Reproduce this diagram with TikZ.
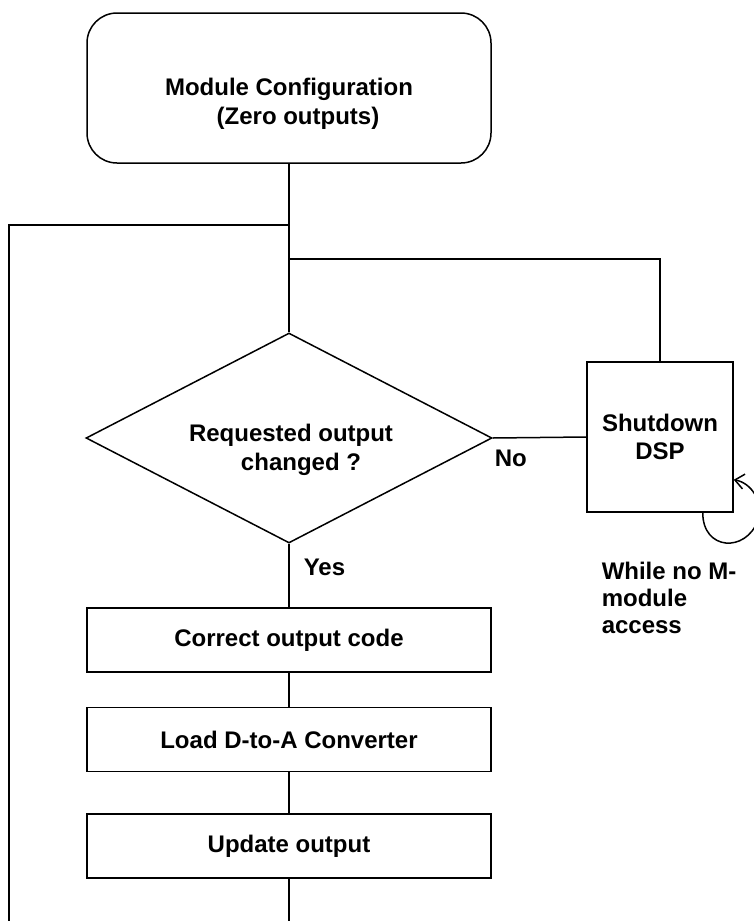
\documentclass[tikz,border=0pt]{standalone}
\usepackage{fontspec}
\setmainfont{Liberation Sans}
\usepackage{tikz}
\usetikzlibrary{shapes.geometric, arrows.meta, positioning, calc}

\begin{document}
\begin{tikzpicture}[
    x=1pt, y=-1pt, line width=1.5pt,
    startbox/.style={
      rectangle, draw, rounded corners=30pt,
      minimum width=404pt, minimum height=150pt
    },
    decision/.style={
      diamond, draw, aspect=1.93, inner sep=0pt,
      minimum width=406pt, minimum height=210pt
    },
    procbox/.style={
      rectangle, draw, minimum width=404pt, minimum height=64pt,
      font=\fontsize{24}{29}\selectfont\bfseries
    },
    waitbox/.style={
      rectangle, draw, minimum width=146pt, minimum height=150pt,
      font=\fontsize{24}{28}\selectfont\bfseries, align=center
    },
    txt/.style={font=\fontsize{24}{29}\selectfont\bfseries, align=center, inner sep=0pt},
    lbl/.style={font=\fontsize{24}{27}\selectfont\bfseries, align=left, inner sep=0pt},
    waitloop/.style={-{Straight Barb[length=9pt, width=15pt, line width=1.5pt]}},
  ]
  \useasboundingbox (0,0) rectangle (753,921);

  \node[startbox] (config) at (289,88) {};
  \node[txt] (configtxt) at (289,104) {Module Configuration\\\hspace*{18pt}(Zero outputs)};

  \coordinate (j1) at (289,225);
  \coordinate (j2) at (289,259);

  \node[decision] (question) at (289,438) {};
  \node[txt] (questiontxt) at (291,450) {Requested output\\\hspace*{20pt}changed ?};

  \node[waitbox] (shutdown) at (660,437) {Shutdown\\DSP};

  \node[procbox] (correct) at (289,640) {Correct output code};
  \node[procbox, below=34pt of correct] (load) {Load D-to-A Converter};
  \node[procbox, below=41pt of load] (update) {Update output};

  \coordinate (exit) at (289,921);
  \coordinate (back) at (9,921);

  % labels
  \node[txt, anchor=north west] (no) at (494,449) {No};
  \node[txt, anchor=base west] (yes) at (303,575) {Yes};
  \node[lbl, anchor=north west] (while) at (601,561) {While no M-\\module\\access};

  % connectors
  \draw (config.south) -- (j1) -- (j2) -- (question.north);
  \draw (j2) -| (shutdown.north);
  \draw (question.east) -- (shutdown.west);
  \draw (question.south) -- (correct.north);
  \draw (correct.south) -- (load.north);
  \draw (load.south) -- (update.north);
  \draw (update.south) -- (exit);
  \draw (back) |- (j1);

  % wait loop on the shutdown box
  \draw[waitloop] ($(shutdown.south east)+(-31,0)$)
    .. controls +(0,38) and +(-12,32) .. ($(shutdown.south east)+(24,8)$)
    .. controls +(6,-20) and +(17,3) .. ($(shutdown.south east)+(0,-33)$);
\end{tikzpicture}
\end{document}
